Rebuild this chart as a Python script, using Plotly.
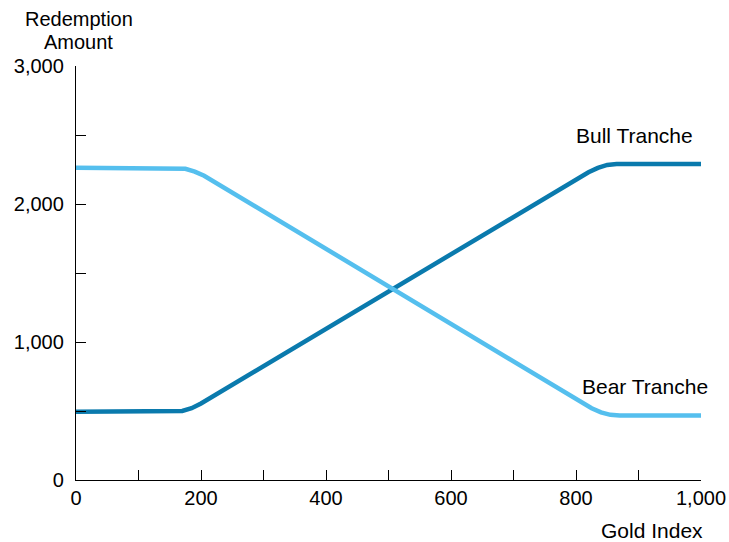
import plotly.graph_objects as go

# Dados
bull_x = [0, 150, 170, 185, 200, 820, 835, 850, 865, 1000]
bull_y = [495, 495, 500, 520, 555, 2230, 2262, 2283, 2290, 2290]

bear_x = [0, 160, 175, 190, 205, 825, 840, 855, 870, 1000]
bear_y = [2262, 2262, 2255, 2235, 2205, 520, 490, 472, 468, 468]

labels = ["Bull Tranche", "Bear Tranche"]
label_x = [893, 910]
label_y = [2500, 680]

fig = go.Figure()
fig.add_trace(go.Scatter(x=bull_x, y=bull_y, mode="lines", name=labels[0],
                         line=dict(color="#0a7aad", width=4.5)))
fig.add_trace(go.Scatter(x=bear_x, y=bear_y, mode="lines", name=labels[1],
                         line=dict(color="#55bfee", width=4.5)))

for t, lx, ly in zip(labels, label_x, label_y):
    fig.add_annotation(x=lx, y=ly, text=t, showarrow=False,
                       font=dict(size=21, color="black"))

# Título do eixo y em duas linhas
fig.add_annotation(x=0.004, y=1.1135, xref="paper", yref="paper", xanchor="center",
                   yanchor="middle", text="Redemption", showarrow=False,
                   font=dict(size=20, color="black"))
fig.add_annotation(x=0.004, y=1.058, xref="paper", yref="paper", xanchor="center",
                   yanchor="middle", text="Amount", showarrow=False,
                   font=dict(size=20, color="black"))
fig.add_annotation(x=0.9216, y=-0.09, xref="paper", yref="paper", xanchor="center",
                   yanchor="top", text="Gold Index", showarrow=False,
                   font=dict(size=21, color="black"))

fig.update_xaxes(range=[0, 1000], dtick=200, tickformat=",", ticks="inside", ticklen=10,
                 tickcolor="black", showline=True, linecolor="black", linewidth=1.3,
                 showgrid=False, zeroline=False, automargin=False,
                 minor=dict(dtick=100, ticks="inside", ticklen=10, tickcolor="black"))
fig.update_yaxes(range=[0, 3000], dtick=1000, tickformat=",", ticks="inside", ticklen=10,
                 tickcolor="black", showline=True, linecolor="black", linewidth=1.3,
                 showgrid=False, zeroline=False, ticklabelstandoff=7, automargin=False,
                 minor=dict(dtick=500, ticks="inside", ticklen=10, tickcolor="black"))

fig.update_layout(width=729, height=542, showlegend=False,
                  plot_bgcolor="white", paper_bgcolor="white",
                  font=dict(family="Liberation Sans, Arial", size=20, color="black"),
                  margin=dict(l=76, r=28, t=66, b=62))

# tira a margem padrão do body para o gráfico ocupar a janela toda
fig.write_html("out.html", config={"displayModeBar": False},
               post_script="document.body.style.margin='0';")
